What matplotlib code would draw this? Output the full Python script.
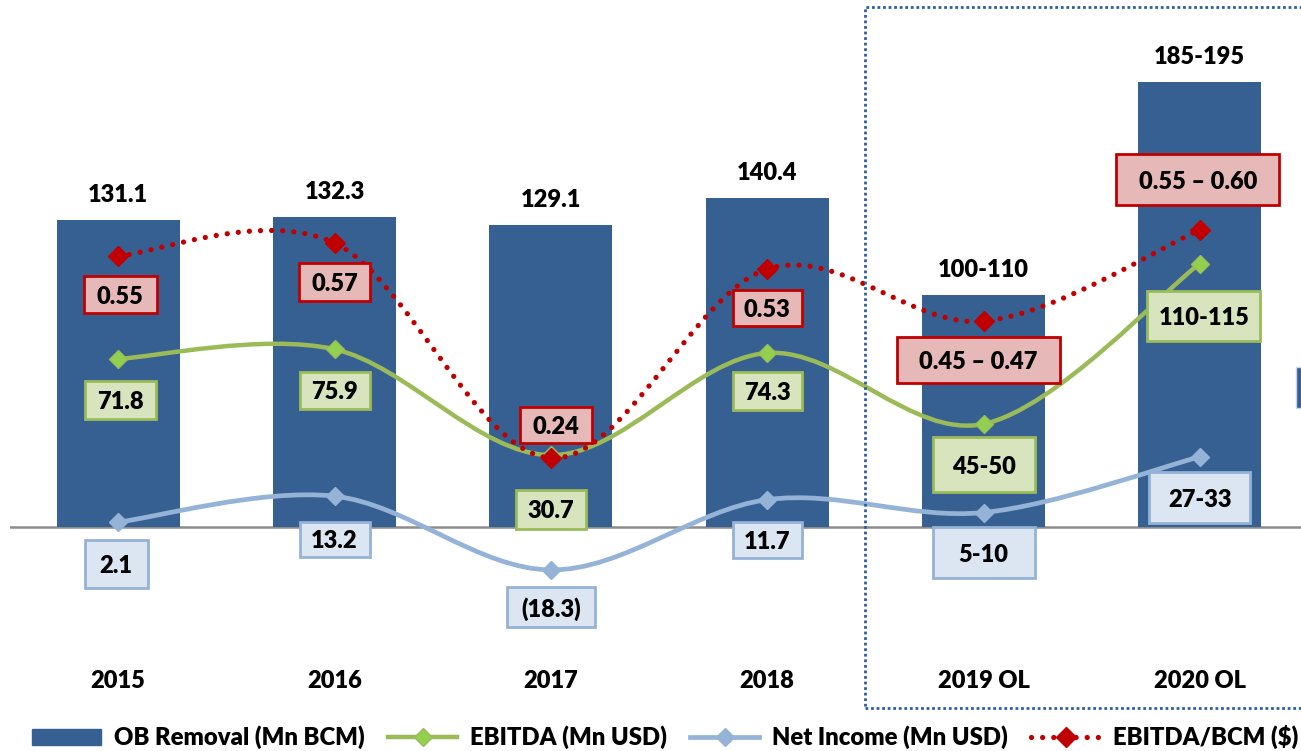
import numpy as np
import matplotlib
matplotlib.use("Agg")
import matplotlib.pyplot as plt
from matplotlib.path import Path
from matplotlib.patches import PathPatch, Rectangle, Patch
from matplotlib.lines import Line2D
from matplotlib.transforms import IdentityTransform

plt.rcParams['font.family'] = ['Lato', 'DejaVu Sans']
plt.rcParams['font.weight'] = 'heavy'

years = ["2015", "2016", "2017", "2018", "2019 OL", "2020 OL"]
ob_removal = [131.1, 132.3, 129.1, 140.4, 99, 190]
ob_labels = ["131.1", "132.3", "129.1", "140.4", "100-110", "185-195"]
ebitda = [71.8, 75.9, 30.7, 74.3, 44, 112.5]
ebitda_labels = ["71.8", "75.9", "30.7", "74.3", "45-50", "110-115"]
net_income = [2.1, 13.2, -18.3, 11.7, 6.2, 30]
net_income_labels = ["2.1", "13.2", "(18.3)", "11.7", "5-10", "27-33"]
ebitda_bcm = [0.55, 0.57, 0.24, 0.53, 0.45, 0.59]
ebitda_bcm_labels = ["0.55", "0.57", "0.24", "0.53", "0.45 \u2013 0.47", "0.55 \u2013 0.60"]

BAR = '#376092'
GREEN = '#9BBB59'
GREEN_FILL = '#D7E4BD'
GREEN_MK = '#92D050'
BLUE = '#95B3D7'
BLUE_FILL = '#DCE6F2'
RED = '#C00000'
RED_FILL = '#E6B9B8'
FS = 17
WT = 'heavy'


def smooth_path(xs, ys):
    # excel style smoothed line (catmull-rom as cubic bezier)
    pts = np.column_stack([xs, ys]).astype(float)
    n = len(pts)
    verts = [pts[0]]
    codes = [Path.MOVETO]
    for i in range(n - 1):
        p0 = pts[i - 1] if i > 0 else pts[i]
        p1 = pts[i]
        p2 = pts[i + 1]
        p3 = pts[i + 2] if i + 2 < n else pts[i + 1]
        verts += [p1 + (p2 - p0) / 6, p2 - (p3 - p1) / 6, p2]
        codes += [Path.CURVE4] * 3
    return Path(verts, codes)


fig = plt.figure(figsize=(13.01, 7.51), dpi=100)
ax = fig.add_axes([10 / 1301, 0, 1298 / 1301, 1])
ax2 = ax.twinx()
ax2.set_position([10 / 1301, 0, 1298 / 1301, 1])
x = np.arange(len(years))
ax.set_xlim(-0.5, 5.5)
ax.set_ylim(-95.6, 225.0)
ax2.set_ylim(-0.2092, 0.9426)
ax.axis('off')
ax2.axis('off')

ax.axhline(0, color='#8C8C8C', lw=1.8, zorder=1)
bars = ax.bar(x, ob_removal, width=0.57, color=BAR, zorder=2)
ax.bar_label(bars, labels=ob_labels, padding=10, fontsize=FS, fontweight=WT)

for i, y in enumerate(years):
    ax.text(i, -65.8, y, ha='center', va='center', fontsize=FS, fontweight=WT)

# lines
ax.add_patch(PathPatch(smooth_path(x, net_income), fill=False, ec=BLUE, lw=3.4,
                       capstyle='round', zorder=3))
ax.plot(x, net_income, ls='none', marker='D', ms=9, color=BLUE, zorder=4)
ax.add_patch(PathPatch(smooth_path(x, ebitda), fill=False, ec=GREEN, lw=3.2,
                       capstyle='round', zorder=3))
ax.plot(x, ebitda, ls='none', marker='D', ms=9, color=GREEN_MK, mec=GREEN, zorder=4)

ax2.add_patch(PathPatch(smooth_path(x, ebitda_bcm), fill=False, ec=RED, lw=3.8,
                        ls=(0, (0.01, 2.1)), capstyle='round', zorder=5))
ax2.plot(x, ebitda_bcm, ls='none', marker='D', ms=10, color=RED, zorder=6)


def boxed(a, xs, ys, labels, offs, sizes, fc, ec):
    # boxes and texts go on the top axes so they sit above every line
    for xi, yi, lab, (dx, dy), (w, h) in zip(xs, ys, labels, offs, sizes):
        px, py = a.transData.transform((xi, yi))
        cx, cy = px + dx, py + dy
        r = Rectangle((cx - w / 2, cy - h / 2), w, h, transform=IdentityTransform(),
                      fc=fc, ec=ec, lw=2, zorder=8, clip_on=False)
        ax2.add_artist(r)
        ax2.annotate(lab, (xi, yi), xycoords=a.transData, xytext=(dx, dy),
                     textcoords='offset pixels', ha='center', va='center_baseline',
                     fontsize=FS, fontweight=WT, zorder=9, annotation_clip=False)


boxed(ax2, x, ebitda_bcm, ebitda_bcm_labels,
      [(2, -39), (0, -39), (5, 33), (0, -39), (-5, -39), (-2, 50)],
      [(73, 37), (71, 38), (72, 36), (69, 36), (163, 46), (163, 51)], RED_FILL, RED)
boxed(ax, x, ebitda, ebitda_labels,
      [(2, -41), (0, -41), (0, -54), (0, -38), (0, -41), (4, -52)],
      [(71, 38), (70, 37), (70, 39), (69, 38), (102, 55), (113, 50)], GREEN_FILL, GREEN)
boxed(ax, x, net_income, net_income_labels,
      [(-2, -42), (0, -43), (0, -37), (0, -40), (0, -40), (0, -41)],
      [(63, 48), (70, 35), (88, 40), (69, 36), (102, 51), (101, 51)], BLUE_FILL, BLUE)

# outlook frame
fig.add_artist(Rectangle((865 / 1301, (751 - 708) / 751), 0.5, 701 / 751,
                         transform=fig.transFigure, fill=False, ec='#2E5E9E',
                         lw=2, ls=(0, (1, 1)), clip_on=False))
fig.add_artist(Rectangle((1296 / 1301, (751 - 408) / 751), 0.05, 41 / 751,
                         transform=fig.transFigure, fc=BAR, ec='#C9D6E8', lw=1))

handles = [
    Patch(fc=BAR, ec=BAR),
    Line2D([], [], color=GREEN, lw=3.2, marker='D', ms=9, mfc=GREEN_MK, mec=GREEN),
    Line2D([], [], color=BLUE, lw=3.4, marker='D', ms=9),
    Line2D([], [], color=RED, lw=3.8, ls=(0, (0.01, 2.1)), dash_capstyle='round',
           marker='D', ms=10),
]
names = ["OB Removal (Mn BCM)", "EBITDA (Mn USD)", "Net Income (Mn USD)", "EBITDA/BCM ($)"]
fig.legend(handles, names, loc='center left', bbox_to_anchor=(32 / 1301, 14 / 751),
           ncol=4, frameon=False, fontsize=17.2, handlelength=2.9, handleheight=0.65,
           handletextpad=0.55, columnspacing=0.95, borderaxespad=0, borderpad=0)

fig.savefig("out.png")
